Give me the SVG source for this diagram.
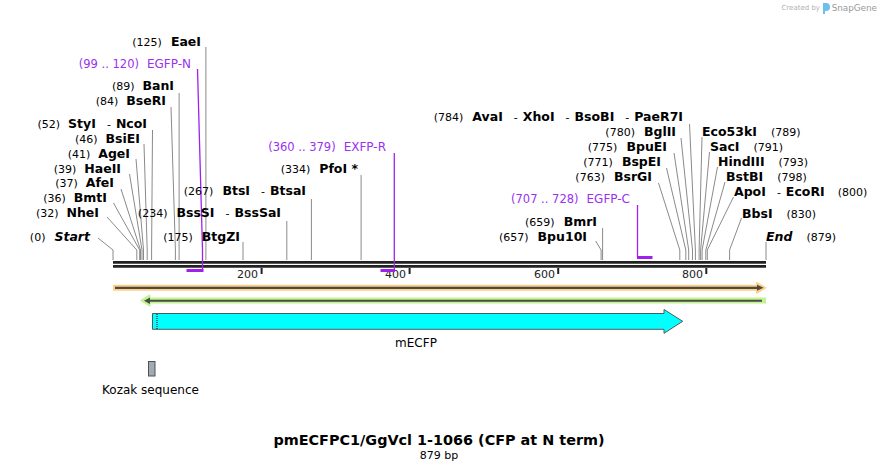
<svg xmlns="http://www.w3.org/2000/svg" width="880" height="471" viewBox="0 0 880 471">
<style>
text{font-family:"DejaVu Sans","Liberation Sans",sans-serif;fill:#000}
.n{font-size:11px;font-weight:normal}
.b{font-size:12.5px;font-weight:bold}
.bi{font-size:12.5px;font-weight:bold;font-style:italic}
.p{font-size:11.5px;fill:#9b30f0}
.ld{fill:none;stroke:#8a8a8a;stroke-width:1}
.pl{fill:none;stroke:#a020f0;stroke-width:1.3}
.pb{fill:none;stroke:#a020f0;stroke-width:3}
.bb{stroke:#222;stroke-width:2.7}
.tk{stroke:#222;stroke-width:2}
.tl{font-size:11px;fill:#222}
</style>
<rect width="880" height="471" fill="#fff"/>

<g id="watermark">
<text x="820" y="10" text-anchor="end" style="font-size:7px;fill:#b0b0b0">Created by</text>
<path d="M823,3 h3 a4,4 0 0 1 0,8 h-1 v3 h-2 z" fill="#6cc0ec"/>
<text x="877" y="11" text-anchor="end" style="font-size:8.8px;fill:#999">SnapGene</text>
</g>

<g id="backbone">
<line class="bb" x1="113" y1="262.3" x2="766" y2="262.3"/>
<line class="bb" x1="113" y1="266.3" x2="766" y2="266.3"/>
<line class="tk" x1="261.6" y1="268" x2="261.6" y2="274"/>
<line class="tk" x1="409.6" y1="268" x2="409.6" y2="274"/>
<line class="tk" x1="558.2" y1="268" x2="558.2" y2="274"/>
<line class="tk" x1="706.3" y1="268" x2="706.3" y2="274"/>
<text class="tl" x="258" y="278" text-anchor="end">200</text>
<text class="tl" x="406" y="278" text-anchor="end">400</text>
<text class="tl" x="555" y="278" text-anchor="end">600</text>
<text class="tl" x="703" y="278" text-anchor="end">800</text>
</g>

<g id="connectors">
<polyline class="ld" points="113,260 113,250 98,238"/>
<polyline class="ld" points="136.8,260 136.8,250 107,217"/>
<polyline class="ld" points="139.7,260 139.7,250 113.5,203"/>
<polyline class="ld" points="140.5,260 140.5,250 121,189"/>
<polyline class="ld" points="142,260 142,250 129.5,174"/>
<polyline class="ld" points="143.5,260 143.5,250 136,159"/>
<polyline class="ld" points="147.2,260 147.2,250 144,144"/>
<polyline class="ld" points="151.6,260 151.6,250 152.5,130"/>
<polyline class="ld" points="175.4,260 175.4,250 171,107"/>
<polyline class="ld" points="179.1,260 179.1,93"/>
<polyline class="ld" points="205.9,260 205.9,47"/>
<polyline class="ld" points="243,260 243,242"/>
<polyline class="ld" points="286.8,260 286.8,221"/>
<polyline class="ld" points="311.4,260 311.4,199"/>
<polyline class="ld" points="361.1,260 361.1,175"/>
<polyline class="ld" points="601.1,260 601.1,250 595.7,241"/>
<polyline class="ld" points="602.6,260 602.6,228"/>
<polyline class="ld" points="679.8,260 679.8,250 658.5,183"/>
<polyline class="ld" points="685.8,260 685.8,250 666.5,168"/>
<polyline class="ld" points="688.7,260 688.7,250 674,153"/>
<polyline class="ld" points="692.5,260 692.5,250 681,138"/>
<polyline class="ld" points="695.4,260 695.4,250 689.5,124"/>
<polyline class="ld" points="699.1,260 699.1,250 702,137"/>
<polyline class="ld" points="700.6,260 700.6,250 709.5,152"/>
<polyline class="ld" points="702.1,260 702.1,250 717.5,167"/>
<polyline class="ld" points="705.8,260 705.8,250 725,182"/>
<polyline class="ld" points="707.3,260 707.3,250 733.5,197"/>
<polyline class="ld" points="729.6,260 729.6,250 741.5,218"/>
<polyline class="ld" points="766,260 766,242"/>
<polyline class="pl" points="197.5,69 202.5,250 202.5,270"/>
<polyline class="pl" points="394.3,153 394.3,270"/>
<polyline class="pl" points="637.5,205 637.5,257"/>
</g>

<g id="primer-EGFP-N">
<line class="pb" x1="186.5" y1="270.5" x2="203.5" y2="270.5"/>
<text class="p" x="191" y="68" text-anchor="end">(99 .. 120)<tspan dx="8" style="font-size:12px">EGFP-N</tspan></text>
</g>
<g id="primer-EXFP-R">
<line class="pb" x1="380.5" y1="270.5" x2="395" y2="270.5"/>
<text class="p" x="386" y="151" text-anchor="end">(360 .. 379)<tspan dx="8" style="font-size:12px">EXFP-R</tspan></text>
</g>
<g id="primer-EGFP-C">
<line class="pb" x1="637" y1="257.5" x2="652.5" y2="257.5"/>
<text class="p" x="630" y="203" text-anchor="end">(707 .. 728)<tspan dx="8" style="font-size:12px">EGFP-C</tspan></text>
</g>

<g id="site-Start"><text x="90" y="241" text-anchor="end"><tspan class="n">(0)</tspan><tspan class="bi" dx="9">Start</tspan></text></g>
<g id="site-NheI"><text x="99" y="217" text-anchor="end"><tspan class="n">(32)</tspan><tspan class="b" dx="8">NheI</tspan></text></g>
<g id="site-BmtI"><text x="107" y="202" text-anchor="end"><tspan class="n">(36)</tspan><tspan class="b" dx="8">BmtI</tspan></text></g>
<g id="site-AfeI"><text x="114" y="187" text-anchor="end"><tspan class="n">(37)</tspan><tspan class="b" dx="8">AfeI</tspan></text></g>
<g id="site-HaeII"><text x="121" y="173" text-anchor="end"><tspan class="n">(39)</tspan><tspan class="b" dx="8">HaeII</tspan></text></g>
<g id="site-AgeI"><text x="130" y="158" text-anchor="end"><tspan class="n">(41)</tspan><tspan class="b" dx="8">AgeI</tspan></text></g>
<g id="site-BsiEI"><text x="140" y="143" text-anchor="end"><tspan class="n">(46)</tspan><tspan class="b" dx="8">BsiEI</tspan></text></g>
<g id="site-StyI-NcoI"><text x="147" y="128" text-anchor="end"><tspan class="n">(52)</tspan><tspan class="b" dx="8">StyI</tspan><tspan class="n" dx="11">-</tspan><tspan class="b" dx="5">NcoI</tspan></text></g>
<g id="site-BseRI"><text x="166" y="105" text-anchor="end"><tspan class="n">(84)</tspan><tspan class="b" dx="8">BseRI</tspan></text></g>
<g id="site-BanI"><text x="174" y="90" text-anchor="end"><tspan class="n">(89)</tspan><tspan class="b" dx="8">BanI</tspan></text></g>
<g id="site-EaeI"><text x="201" y="46" text-anchor="end"><tspan class="n">(125)</tspan><tspan class="b" dx="9">EaeI</tspan></text></g>
<g id="site-BtgZI"><text x="240" y="241" text-anchor="end"><tspan class="n">(175)</tspan><tspan class="b" dx="9">BtgZI</tspan></text></g>
<g id="site-BssSI"><text x="281" y="217" text-anchor="end"><tspan class="n">(234)</tspan><tspan class="b" dx="9">BssSI</tspan><tspan class="n" dx="11">-</tspan><tspan class="b" dx="5">BssSaI</tspan></text></g>
<g id="site-BtsI"><text x="306" y="195" text-anchor="end"><tspan class="n">(267)</tspan><tspan class="b" dx="9">BtsI</tspan><tspan class="n" dx="11">-</tspan><tspan class="b" dx="5">BtsaI</tspan></text></g>
<g id="site-PfoI"><text x="358" y="173" text-anchor="end"><tspan class="n">(334)</tspan><tspan class="b" dx="9">PfoI *</tspan></text></g>
<g id="site-Bpu10I"><text x="587" y="241" text-anchor="end"><tspan class="n">(657)</tspan><tspan class="b" dx="9">Bpu10I</tspan></text></g>
<g id="site-BmrI"><text x="597" y="226" text-anchor="end"><tspan class="n">(659)</tspan><tspan class="b" dx="9">BmrI</tspan></text></g>
<g id="site-BsrGI"><text x="652" y="181" text-anchor="end"><tspan class="n">(763)</tspan><tspan class="b" dx="9">BsrGI</tspan></text></g>
<g id="site-BspEI"><text x="661" y="166" text-anchor="end"><tspan class="n">(771)</tspan><tspan class="b" dx="9">BspEI</tspan></text></g>
<g id="site-BpuEI"><text x="667" y="151" text-anchor="end"><tspan class="n">(775)</tspan><tspan class="b" dx="9">BpuEI</tspan></text></g>
<g id="site-BglII"><text x="676" y="136" text-anchor="end"><tspan class="n">(780)</tspan><tspan class="b" dx="9">BglII</tspan></text></g>
<g id="site-AvaI"><text x="683" y="121" text-anchor="end"><tspan class="n">(784)</tspan><tspan class="b" dx="9">AvaI</tspan><tspan class="n" dx="11">-</tspan><tspan class="b" dx="5">XhoI</tspan><tspan class="n" dx="11">-</tspan><tspan class="b" dx="5">BsoBI</tspan><tspan class="n" dx="11">-</tspan><tspan class="b" dx="5">PaeR7I</tspan></text></g>
<g id="site-Eco53kI"><text x="702" y="136"><tspan class="b">Eco53kI</tspan><tspan class="n" dx="14">(789)</tspan></text></g>
<g id="site-SacI"><text x="710" y="151"><tspan class="b">SacI</tspan><tspan class="n" dx="14">(791)</tspan></text></g>
<g id="site-HindIII"><text x="718" y="166"><tspan class="b">HindIII</tspan><tspan class="n" dx="14">(793)</tspan></text></g>
<g id="site-BstBI"><text x="726" y="181"><tspan class="b">BstBI</tspan><tspan class="n" dx="14">(798)</tspan></text></g>
<g id="site-ApoI"><text x="734" y="196"><tspan class="b">ApoI</tspan><tspan class="n" dx="11">-</tspan><tspan class="b" dx="5">EcoRI</tspan><tspan class="n" dx="13">(800)</tspan></text></g>
<g id="site-BbsI"><text x="742" y="218"><tspan class="b">BbsI</tspan><tspan class="n" dx="14">(830)</tspan></text></g>
<g id="site-End"><text x="766" y="241"><tspan class="bi">End</tspan><tspan class="n" dx="14">(879)</tspan></text></g>

<g id="feature-forward">
<line x1="113" y1="287.8" x2="760" y2="287.8" stroke="#ffcf85" stroke-width="6"/>
<polygon points="757,283 765,287.8 757,292.6" fill="#ffcf85" stroke="#ffcf85" stroke-width="2" stroke-linejoin="round"/>
<line x1="115" y1="287.8" x2="759" y2="287.8" stroke="#4a4a4a" stroke-width="2.2"/>
<polygon points="757,284.8 763.5,287.8 757,290.8" fill="#4a4a4a"/>
</g>
<g id="feature-reverse">
<line x1="149" y1="300.5" x2="766" y2="300.5" stroke="#c2f48e" stroke-width="6"/>
<polygon points="149.5,295.5 141.5,300.5 149.5,305.5" fill="#c2f48e" stroke="#c2f48e" stroke-width="2" stroke-linejoin="round"/>
<line x1="149" y1="300.8" x2="762" y2="300.8" stroke="#4a4a4a" stroke-width="2"/>
<polygon points="150,297.5 144,300.8 150,304" fill="#4a4a4a"/>
</g>
<g id="feature-mECFP">
<path d="M152.5,313.5 H664 V309.5 L682.7,321.3 L664,333.3 V329.3 H152.5 Z" fill="#00ffff" stroke="#505a5e" stroke-width="1"/>
<line x1="157" y1="314" x2="157" y2="329" stroke="#000" stroke-width="1" stroke-dasharray="1,1"/>
<text x="416" y="347" text-anchor="middle" style="font-size:12px">mECFP</text>
</g>
<g id="feature-Kozak">
<rect x="148.5" y="361.5" width="6.5" height="14.5" fill="#a3aab2" stroke="#505050" stroke-width="1"/>
<text x="150.5" y="394" text-anchor="middle" style="font-size:12px">Kozak sequence</text>
</g>

<g id="title">
<text x="439" y="445" text-anchor="middle" style="font-size:14.4px;font-weight:bold">pmECFPC1/GgVcl 1-1066 (CFP at N term)</text>
<text x="439" y="459" text-anchor="middle" style="font-size:11px">879 bp</text>
</g>
</svg>
